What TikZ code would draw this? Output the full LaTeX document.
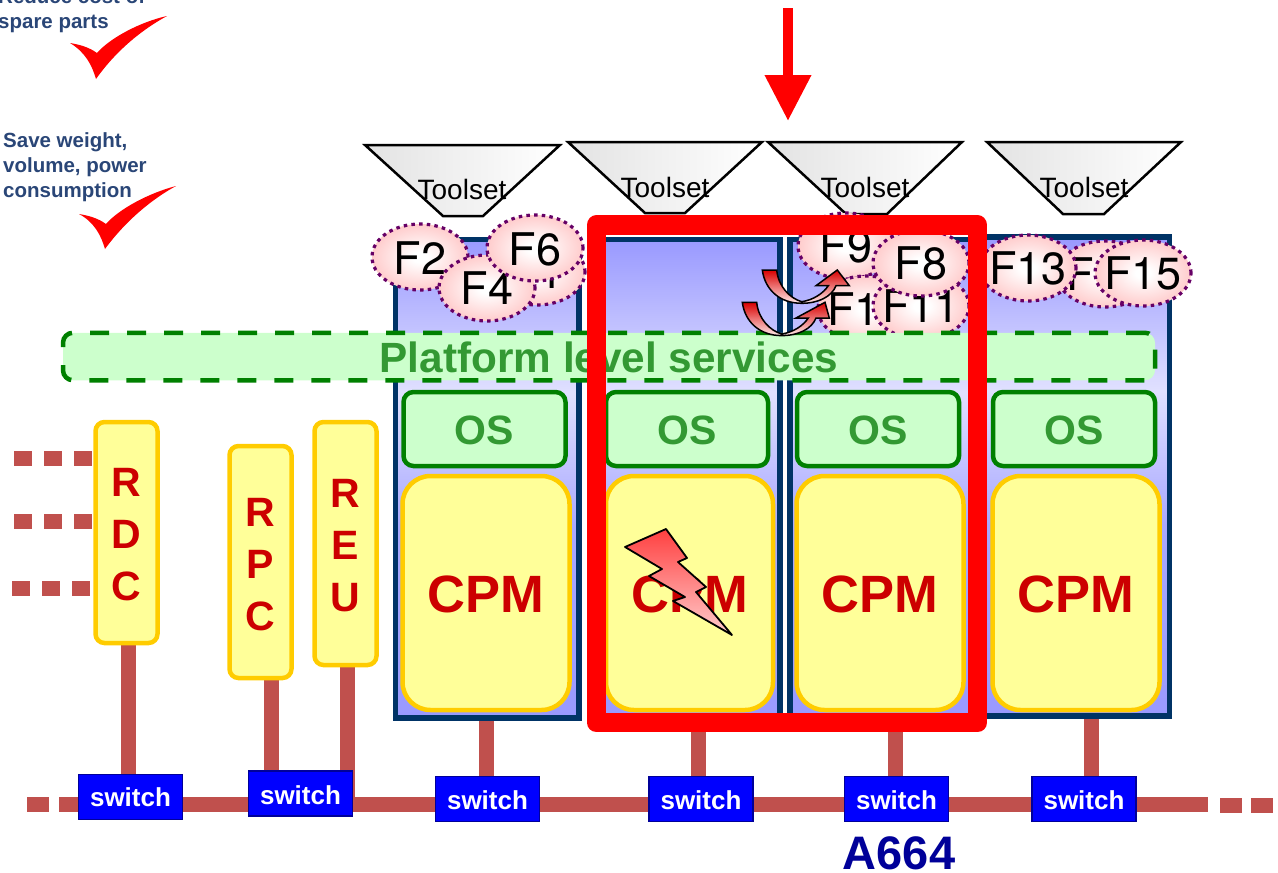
\documentclass[tikz,border=0pt]{standalone}
\usepackage{fontspec}
\setmainfont{Liberation Sans}
\newfontfamily\herosf{TeX Gyre Heros}
\usetikzlibrary{arrows.meta,shapes.geometric}
\definecolor{navy}{HTML}{003366}
\definecolor{linkc}{HTML}{C0504D}
\definecolor{osg}{HTML}{008000}
\definecolor{ostxt}{HTML}{339933}
\definecolor{osfill}{HTML}{CCFFCC}
\definecolor{cpmy}{HTML}{FFFF99}
\definecolor{cpme}{HTML}{FFCC00}
\definecolor{cpmt}{HTML}{CC0000}
\definecolor{fpur}{HTML}{660066}
\definecolor{bluetxt}{HTML}{2A4677}
\definecolor{a664}{HTML}{000099}
\definecolor{swe}{HTML}{000099}
\pgfdeclareverticalshading{cpuv}{100bp}{rgb(0bp)=(.6,.6,1); rgb(25bp)=(.6,.6,1); rgb(45bp)=(.66,.66,1); rgb(59bp)=(.88,.88,1); rgb(75bp)=(.6,.6,1); rgb(100bp)=(.6,.6,1)}
\pgfdeclareradialshading{fpink}{\pgfpoint{0bp}{0bp}}{rgb(0bp)=(1,1,1); rgb(4bp)=(1,1,1); rgb(25bp)=(1,.8,.8); rgb(50bp)=(1,.8,.8)}
\pgfdeclarelayer{bg}
\pgfsetlayers{bg,main}
\newcommand{\fsz}[1]{\fontsize{#1}{#1}\selectfont}
\newcommand{\lowr}[2]{\raisebox{-#1pt}[\height][\depth]{#2}}
\tikzset{
  cpubox/.style={rectangle,draw=navy,line width=5.5pt,shade,shading=cpuv,outer sep=0pt},
  osbox/.style={rectangle,rounded corners=10pt,draw=osg,line width=4.5pt,fill=osfill,text=ostxt,
    font=\fsz{41}\bfseries,minimum width=162pt,minimum height=74pt,outer sep=0pt},
  cpmbox/.style={rectangle,rounded corners=28pt,draw=cpme,line width=4.5pt,fill=cpmy,text=cpmt,
    font=\fsz{52.5}\bfseries,minimum width=167pt,minimum height=234pt,outer sep=0pt},
  rbox/.style={rectangle,rounded corners=9pt,draw=cpme,line width=4.5pt,fill=cpmy,text=cpmt,
    font=\fontsize{41}{52}\selectfont\bfseries,align=center,minimum width=62pt,inner sep=0pt,outer sep=0pt},
  swbox/.style={rectangle,draw=swe,line width=1.2pt,fill=blue,text=white,
    font=\fsz{26}\bfseries,minimum width=104pt,minimum height=45pt,inner sep=0pt,outer sep=0pt},
  tool/.style={draw=black,line width=2.5pt,line join=miter,shade,left color=black!11,right color=white},
  tooltxt/.style={font=\fsz{28},anchor=base,inner sep=0pt,text=black},
  fn/.style={ellipse,draw=fpur,line width=3.2pt,dash pattern=on 3.5pt off 4.2pt,shade,shading=fpink,
    minimum width=96pt,minimum height=66pt,inner xsep=-12pt,inner ysep=-6pt,font=\fsz{45}\herosf,text=black},
  link/.style={draw=linkc,line width=15pt},
  dots/.style={draw=linkc,line width=15pt,dash pattern=on 18pt off 12pt},
  flash/.style={draw=black,line width=1.8pt,line join=round,shade,top color=red!75,bottom color=red!20},
  curvy/.style={draw=black,line width=1.5pt,line join=miter,shade,top color=red!85!black,bottom color=red!8},
  note/.style={font=\fontsize{20.5}{25}\selectfont\bfseries,text=bluetxt,align=left,anchor=north west,inner sep=0pt},
  check/.style={fill=red,draw=none}
}
\begin{document}
\begin{tikzpicture}[x=1pt,y=-1pt]
\useasboundingbox (0,0) rectangle (1278,873);
% notes and ticks
\node[note] (n1) at (-2,-12) {Reduce cost of\\spare parts};
\node[note] (n2) at (3,132.5) {Save weight,\\volume, power\\consumption};
\fill[check] (70,43) .. controls (82,45) and (90,48) .. (97,53) .. controls (110,38) and (140,22) .. (167,16)
  .. controls (145,28) and (118,48) .. (96,79) .. controls (92,65) and (85,52) .. (70,43) -- cycle;
\fill[check] (79,214) .. controls (91,216) and (99,219) .. (106,224) .. controls (119,209) and (149,193) .. (176,186)
  .. controls (154,198) and (127,219) .. (105,249) .. controls (101,235) and (94,222) .. (79,214) -- cycle;
% top arrow
\coordinate (a1) at (788,8);
\coordinate (a2) at (788,121);
\draw[red,line width=10pt,-{Triangle[width=44pt,length=46pt]}] (a1) -- (a2);
% toolsets
\draw[tool] (365,145) -- (560,145) -- (483,216) -- (443,216) -- cycle;
\draw[tool] (568,142) -- (762,142) -- (685,213) -- (645,213) -- cycle;
\draw[tool] (768,142) -- (962,142) -- (887,214) -- (846,214) -- cycle;
\draw[tool] (987,142) -- (1181,142) -- (1104,214) -- (1063,214) -- cycle;
\node[tooltxt] (t1) at (462,199) {Toolset};
\node[tooltxt] (t2) at (665,197) {Toolset};
\node[tooltxt] (t3) at (865,197) {Toolset};
\node[tooltxt] (t4) at (1084,197) {Toolset};
% CPU boxes
\node[cpubox,minimum width=183.5pt,minimum height=478.5pt] (c1) at (487,478.7) {};
\node[cpubox,minimum width=179pt,minimum height=478.5pt] (c2) at (690.5,478.7) {};
\node[cpubox,minimum width=185pt,minimum height=478.5pt] (c3) at (882.5,478.7) {};
\node[cpubox,minimum width=187.5pt,minimum height=479pt] (c4) at (1075.7,476.5) {};
% functions
\node[fn] (f1) at (537,272) {F1};
\node[fn] (f2) at (420,257) {\lowr{1}{F2}};
\node[fn] (f4) at (487,288) {F4};
\node[fn] (f6) at (535,248) {\lowr{1}{F6}};
\node[fn] (f9) at (846,246) {F9};
\node[fn] (f12) at (866,309) {F12};
\node[fn] (f11) at (921,306) {F11};
\node[fn] (f8) at (921,263) {F8};
\node[fn] (f14) at (1105,274) {F14};
\node[fn] (f13) at (1028,268) {F13};
\node[fn] (f15) at (1143,273) {F15};
% platform bar
\node[rectangle,rounded corners=10pt,draw=osg,line width=4.5pt,dash pattern=on 19pt off 18pt,fill=osfill,
  text=ostxt,font=\fsz{42.3}\bfseries,minimum width=1092pt,minimum height=47.5pt,inner sep=0pt] (pl) at (609,356.5) {\lowr{1}{Platform level services}};
% OS
\node[osbox] (o1) at (484.5,429) {\lowr{1}{OS}};
\node[osbox] (o2) at (687,429) {\lowr{1}{OS}};
\node[osbox] (o3) at (878,429) {\lowr{1}{OS}};
\node[osbox] (o4) at (1074,429) {\lowr{1}{OS}};
% CPM
\node[cpmbox] (m1) at (486,593) {\lowr{1}{CPM}};
\node[cpmbox] (m2) at (689.5,593) {\lowr{1}{CPM}};
\node[cpmbox] (m3) at (880,593) {\lowr{1}{CPM}};
\node[cpmbox] (m4) at (1076,593) {\lowr{1}{CPM}};
% remote boxes
\node[rbox,minimum height=221pt] (rdc) at (126.5,532.5) {\lowr{6}{\begin{tabular}{@{}c@{}}R\\D\\C\end{tabular}}};
\node[rbox,minimum height=232pt] (rpc) at (260.5,562) {\lowr{6}{\begin{tabular}{@{}c@{}}R\\P\\C\end{tabular}}};
\node[rbox,minimum height=243pt] (reu) at (345.5,543.5) {\lowr{6}{\begin{tabular}{@{}c@{}}R\\E\\U\end{tabular}}};
% switches
\node[swbox] (s1) at (130.5,797) {switch};
\node[swbox] (s2) at (300.5,793.5) {\lowr{1.5}{switch}};
\node[swbox] (s3) at (487.5,799) {\lowr{1}{switch}};
\node[swbox] (s4) at (701,799) {\lowr{1}{switch}};
\node[swbox] (s5) at (896.5,799) {\lowr{1}{switch}};
\node[swbox] (s6) at (1084,799) {\lowr{1}{switch}};
\node[font=\fsz{47}\bfseries,text=a664,inner sep=0pt] (a664) at (899,853) {A664};
% links and bus, behind the boxes
\coordinate (busl) at (78,804);
\coordinate (busr) at (1208,804);
\coordinate (ld) at (27,804);
\coordinate (rd) at (1220,805);
\coordinate (rde) at (1273,805);
\coordinate (d1) at (14,458);
\coordinate (d2) at (14,521);
\coordinate (d3) at (12,588);
\begin{pgfonlayer}{bg}
\draw[link] (busl) -- (busr);
\draw[link,dash pattern=on 22pt off 10pt] (ld) -- (busl);
\draw[link,dash pattern=on 22pt off 9pt] (rd) -- (rde);
\draw[link] (128.5,0 |- rdc.south) -- (128.5,0 |- s1.north);
\draw[link] (271,0 |- rpc.south) -- (271,0 |- s2.north);
\draw[link] (347,0 |- reu.south) -- (347,0 |- busl);
\draw[link] (486,0 |- c1.south) -- (486,0 |- s3.north);
\draw[link] (698,0 |- c2.south) -- (698,0 |- s4.north);
\draw[link] (895.5,0 |- c3.south) -- (895.5,0 |- s5.north);
\draw[link] (1091,0 |- c4.south) -- (1091,0 |- s6.north);
\draw[dots] (d1) -- (d1 -| rdc.west);
\draw[dots] (d2) -- (d2 -| rdc.west);
\draw[dots] (d3) -- (d3 -| rdc.west);
\end{pgfonlayer}
% lightning
\draw[flash] (625,547) -- (666,529) -- (687,558) -- (678,562) -- (706,587) -- (696,592) -- (732,635)
  -- (673,601) -- (685,597) -- (649,576) -- (662,569) -- cycle;
% curved arrows
\foreach \dx/\dy/\tp in {0/0/837.3,-20/32.3/845}{
\begin{scope}[shift={(\dx,\dy)}]
\draw[curvy] (762.3,270) .. controls (765,290) and (780,303.3) .. (801.7,303.3)
  .. controls (818.3,303.3) and (831.7,296.7) .. (836,285.7) -- (849.3,285.7) -- (\tp,270) -- (816,285.7) -- (828.3,285.7)
  .. controls (823.3,293.3) and (813.3,300) .. (801.7,301.7)
  .. controls (790,298.3) and (778.3,286.7) .. (776.7,270) -- cycle;
\end{scope}}
% red frame
\draw[red,line width=19.5pt,line join=round] (596.5,225) rectangle (977.5,722.5);
\end{tikzpicture}
\end{document}
